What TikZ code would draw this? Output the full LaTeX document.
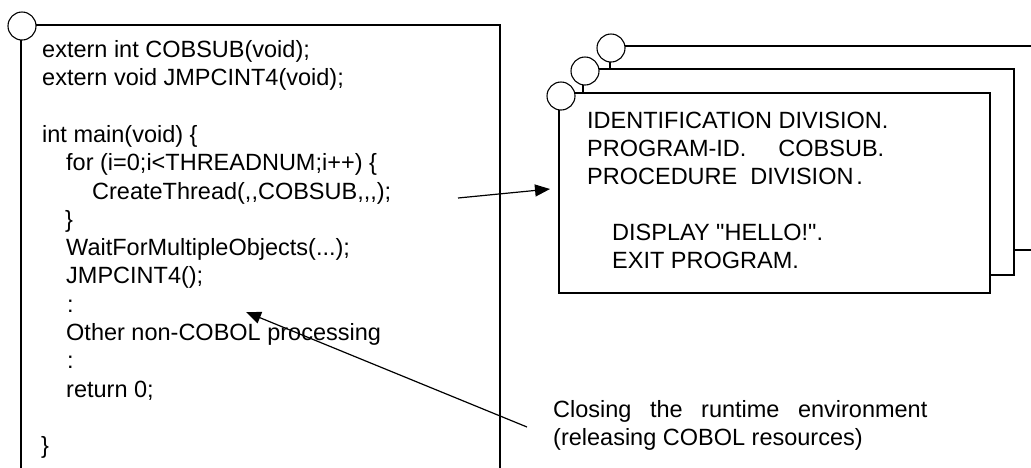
\documentclass[tikz,border=0pt]{standalone}
\usepackage{fontspec}
\setmainfont{Liberation Sans}[Ligatures=TeXOff]
\usetikzlibrary{arrows.meta}
\begin{document}
\begin{tikzpicture}[x=1pt,y=-1pt,
  code/.style={anchor=base west, inner sep=0pt, font=\fontsize{23.5pt}{28.3pt}\selectfont},
  frame/.style={line width=1.4pt, draw=black},
  knob/.style={circle, draw=black, fill=white, line width=1.1pt, minimum size=28pt, inner sep=0pt},
  ptr/.style={line width=1.2pt, -{Triangle[length=15pt,width=12pt]}}]
\useasboundingbox (0,0) rectangle (1031,467);

% ---------------- left box (C program)
\draw[frame] (21,480) -- (21,25) -- (500,25) -- (500,480);
\node[knob] (cL) at (22,26) {};

\node[code] (l1)  at (42, 57.5) {extern int COBSUB(void);};
\node[code] (l2)  at (42, 85.8) {extern void JMPCINT4(void);};
\node[code] (l4)  at (42,142.4) {int main(void) \{};
\node[code] (l5)  at (66,170.7) {for (i=0;i<THREADNUM;i++) \{};
\node[code] (l6)  at (92,199.0) {CreateThread(,,COBSUB,,,);};
\node[code] (l7)  at (65,227.3) {\}};
\node[code] (l8)  at (66,255.6) {WaitForMultipleObjects(...);};
\node[code] (l9)  at (66,283.9) {JMPCINT4();};
\node[code] (l10) at (67,312.2) {:};
\node[code] (l11) at (66,340.5) {Other non-COBOL processing};
\node[code] (l12) at (67,368.8) {:};
\node[code] (l13) at (66,397.1) {return 0;};
\node[code] (l15) at (41,453.7) {\}};

% ---------------- stacked COBOL boxes
\draw[frame] (1045,250) -- (610,250) -- (610,46) -- (1045,46);
\node[knob] (c3) at (611,48) {};
\draw[frame, fill=white] (583,69) rectangle (1014,275);
\node[knob] (c2) at (585,71) {};
\draw[frame, fill=white] (559,93) rectangle (990,293);
\node[knob] (c1) at (561,96) {};

\node[code] (r1) at (587,128) {IDENTIFICATION DIVISION.};
\node[code] (r2) at (587,156) {PROGRAM-ID.\hspace{32pt}COBSUB.};
\node[code] (r3) at (587,184) {PROCEDURE\hspace{13pt}DIVISION\hspace{3pt}.};
\node[code] (r5) at (612,240) {DISPLAY "HELLO!".};
\node[code] (r6) at (612,268) {EXIT PROGRAM.};

% ---------------- annotation
\node[code] (n1) at (553,417) {Closing\hspace{18.5pt}the\hspace{18.5pt}runtime\hspace{18.5pt}environment};
\node[code] (n2) at (553,445) {(releasing COBOL resources)};

% ---------------- connectors
\coordinate (a1s) at (458,198);
\coordinate (a1e) at (550,189);
\draw[ptr] (a1s) -- (a1e);
\coordinate (a2s) at (527,427);
\coordinate (a2e) at (246,312);
\draw[ptr] (a2s) -- (a2e);
\end{tikzpicture}
\end{document}
